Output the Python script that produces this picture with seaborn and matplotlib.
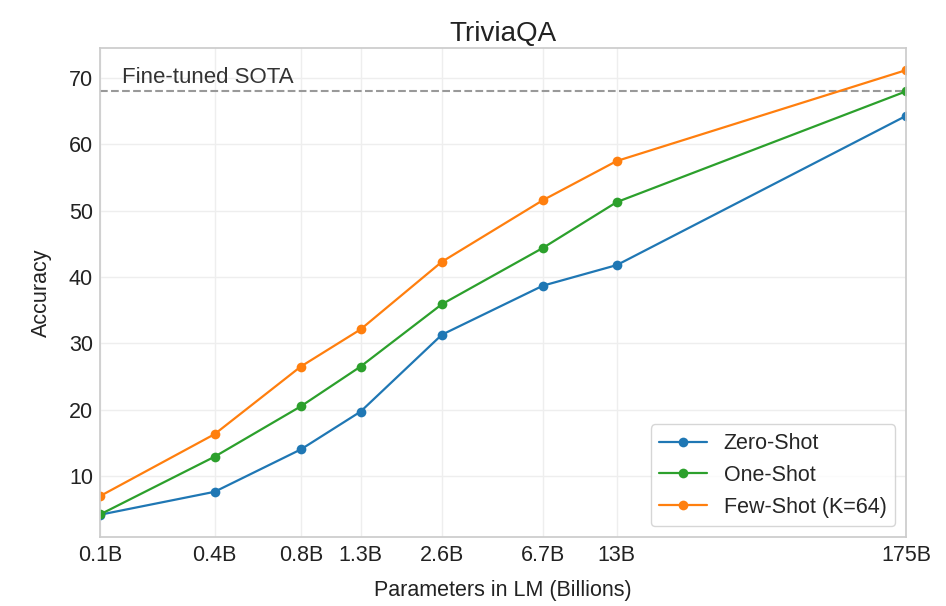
import matplotlib
matplotlib.use("Agg")
import matplotlib.pyplot as plt
import seaborn as sns
import pandas as pd

params = [0.125, 0.35, 0.76, 1.3, 2.7, 6.7, 13, 175]
tick_labels = ["0.1B", "0.4B", "0.8B", "1.3B", "2.6B", "6.7B", "13B", "175B"]
zero_shot = [4.15, 7.61, 14.0, 19.7, 31.3, 38.7, 41.8, 64.3]
one_shot = [4.19, 12.9, 20.5, 26.5, 35.9, 44.4, 51.3, 68.0]
few_shot = [6.96, 16.3, 26.5, 32.1, 42.3, 51.6, 57.5, 71.2]
series_names = ["Zero-Shot", "One-Shot", "Few-Shot (K=64)"]
sota = 68.0

sns.set_theme(style="whitegrid")
plt.rcParams["font.family"] = ["Liberation Sans", "DejaVu Sans"]

df = pd.DataFrame({
    "params": params * 3,
    "acc": zero_shot + one_shot + few_shot,
    "setting": sum([[n] * len(params) for n in series_names], []),
})

fig = plt.figure(figsize=(9.46, 6.06), dpi=100)
ax = fig.add_axes([0.1057, 0.1139, 0.852, 0.807])
palette = ["#1f77b4", "#2ca02c", "#ff7f0e"]
sns.lineplot(data=df, x="params", y="acc", hue="setting", hue_order=series_names,
             palette=palette, marker="o", markersize=7, markeredgewidth=0,
             linewidth=1.6, ax=ax)
ax.set_xscale("log")
ax.set_xlim(params[0], params[-1])
ax.set_xticks(params)
ax.set_xticklabels(tick_labels)
ax.minorticks_off()
ax.set_yticks([10, 20, 30, 40, 50, 60, 70])
ax.margins(y=0.05)
ax.axhline(sota, color="#999999", linestyle="--", linewidth=1.5, zorder=1)
ax.text(0.152, sota + 0.5, "Fine-tuned SOTA", fontsize=16, color="#333333", va="bottom")
ax.tick_params(axis="x", labelsize=15.5, colors="#222222", pad=0)
ax.tick_params(axis="y", labelsize=15.5, colors="#222222", pad=-1)
ax.set_xlabel("Parameters in LM (Billions)", fontsize=15.5, color="#222222", labelpad=10)
ax.set_ylabel("Accuracy", fontsize=15.5, color="#222222", labelpad=12)
ax.set_title("TriviaQA", fontsize=20, color="#222222", pad=5)
for s in ax.spines.values():
    s.set_color("#cccccc")
ax.grid(color="#eeeeee")
leg = ax.legend(loc="lower right", fontsize=15.5, frameon=True, handlelength=2.2,
                borderaxespad=0.5)
fig.savefig("out.png", dpi=100)
